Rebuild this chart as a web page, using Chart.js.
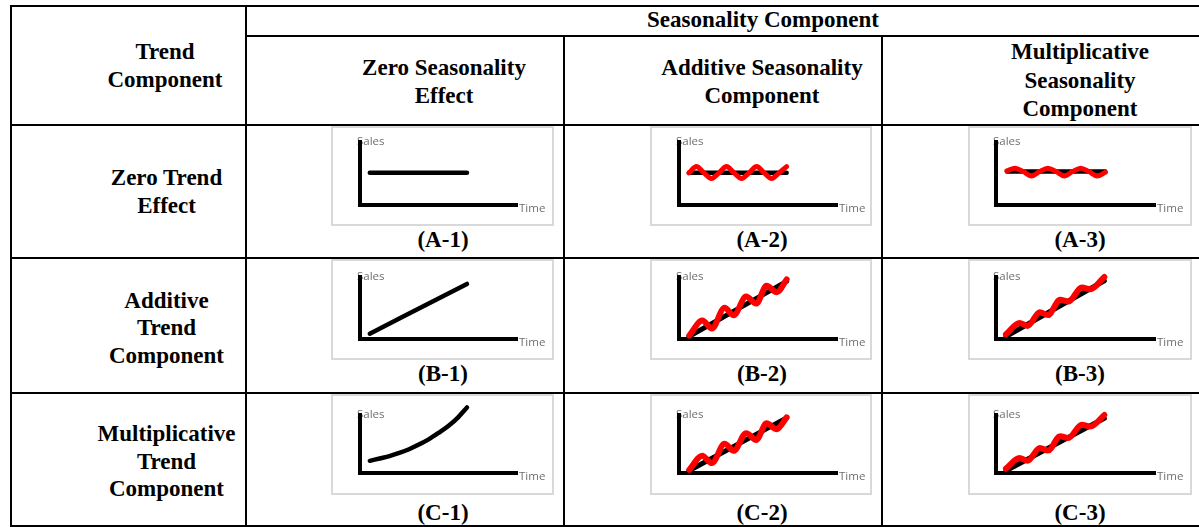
<!DOCTYPE html>
<html>
<head>
<meta charset="utf-8">
<script src="https://cdn.jsdelivr.net/npm/chart.js@4/dist/chart.umd.min.js"></script>
<style>
  html, body { margin: 0; padding: 0; background: #fff; }
  #page { position: relative; width: 1199px; height: 527px; overflow: hidden; background: #fff; }
  .ln { position: absolute; background: #000; }
  .txt { position: absolute; transform: translate(-50%, -50%); text-align: center; white-space: nowrap;
         font-family: "Liberation Serif", "Times New Roman", serif; font-weight: bold; font-size: 23px;
         line-height: 28px; color: #000; }
  .box { position: absolute; box-sizing: border-box; border: 2px solid #d9d9d9; background: #fff; }
  canvas { position: absolute; }
</style>
</head>
<body>
<div id="page"></div>
<script>
// ---------------- data (time on a 0..16 axis, sales on a 0..100 axis) ----------------
// Row A: zero trend
const a1Time = [1, 10.9];
const a1Trend = [51, 51];

const a2Time = [1, 10.9];
const a2Trend = [51, 51];
const a2WaveTime = [1, 1.76, 2.52, 3.29, 4.05, 4.81, 5.57, 6.33, 7.1, 7.86, 8.62, 9.38, 10.14, 10.9];
const a2Wave = [51, 61, 51, 42, 51, 61, 51, 42, 51, 61, 51, 42, 51, 61];

const a3Time = [1.1, 11];
const a3Trend = [53, 53];
const a3WaveTime = [1.1, 1.92, 2.74, 3.57, 4.39, 5.22, 6.05, 6.87, 7.7, 8.52, 9.35, 10.17, 11];
const a3Wave = [54, 58.5, 53, 46, 53, 58.5, 53, 46, 53, 58.5, 53, 46, 52];

// Row B: additive trend
const b1Time = [1, 10.9];
const b1Trend = [8.5, 88.8];

const b2Time = [1, 10.9];
const b2Trend = [4, 93];
const b2WaveTime = [1.05, 2.35, 3.33, 4.62, 5.54, 6.8, 7.82, 8.87, 9.89, 10.9];
const b2Wave = [5.7, 29.7, 17.1, 50.3, 38.3, 68.6, 57.1, 85.8, 75.5, 96];

const b3Time = [1, 10.9];
const b3Trend = [4, 94];
const b3WaveTime = [1, 2.37, 3.18, 4.41, 5.23, 6.45, 7.27, 8.63, 9.48, 10.9];
const b3Wave = [7.4, 25.8, 21.1, 43.2, 38.6, 63.2, 60.3, 83.1, 80.2, 100];

// Row C: multiplicative trend
const c1Time = [1, 2, 3, 4, 5, 6, 7, 8, 9, 10, 10.9];
const c1Trend = [21, 25, 29, 34.5, 41, 49, 58, 69, 81, 96, 113];

const c2Time = [1, 10.9];
const c2Trend = [4, 95];
const c2WaveTime = [1.05, 2.35, 3.33, 4.62, 5.54, 6.8, 7.82, 8.87, 9.89, 10.9];
const c2Wave = [5.7, 29.7, 17.1, 50.3, 38.3, 68.6, 57.1, 85.8, 75.5, 96];

const c3Time = [1, 10.9];
const c3Trend = [4, 94.3];
const c3WaveTime = [1, 2.37, 3.18, 4.41, 5.23, 6.45, 7.27, 8.63, 9.48, 10.9];
const c3Wave = [7.4, 25.8, 21.1, 43.2, 38.6, 63.2, 60.3, 83.1, 80.2, 100];

const cellLabels = [["(A-1)", "(A-2)", "(A-3)"], ["(B-1)", "(B-2)", "(B-3)"], ["(C-1)", "(C-2)", "(C-3)"]];
const axisTitleY = "Sales";
const axisTitleX = "Time";

// ---------------- table layout ----------------
const page = document.getElementById('page');
function line(l, t, w, h) {
  const d = document.createElement('div'); d.className = 'ln';
  Object.assign(d.style, {left: l + 'px', top: t + 'px', width: w + 'px', height: h + 'px'});
  page.appendChild(d);
}
function text(html, cx, cy, lh) {
  const d = document.createElement('div'); d.className = 'txt'; d.innerHTML = html;
  d.style.left = cx + 'px'; d.style.top = cy + 'px';
  if (lh) d.style.lineHeight = lh + 'px';
  page.appendChild(d);
}
line(10, 5, 1300, 2);      // top
line(10, 5, 2, 522);       // left
line(245, 5, 2, 522);      // trend col divider
line(245, 35, 1100, 2);    // under "Seasonality Component"
line(563, 35, 2, 492);
line(881, 35, 2, 492);
line(10, 124, 1300, 2);
line(10, 257, 1300, 2);
line(10, 392, 1300, 2);
line(10, 525, 1300, 2);

text("Seasonality Component", 763, 20);
text("Trend<br>Component", 165, 65.5, 28.5);
text("Zero Seasonality<br>Effect", 444, 82, 28);
text("Additive Seasonality<br>Component", 762, 82, 28);
text("Multiplicative<br>Seasonality<br>Component", 1080, 81, 28.5);
text("Zero Trend<br>Effect", 166.5, 192, 28);
text("Additive<br>Trend<br>Component", 166.5, 327.5, 27.5);
text("Multiplicative<br>Trend<br>Component", 166.5, 461, 27.5);

// ---------------- charts ----------------
const cols = [
  {left: 331, width: 223, padL: 29, padR: 37, cx: 443},
  {left: 650, width: 222, padL: 29, padR: 35, cx: 762},
  {left: 968, width: 224, padL: 28, padR: 37, cx: 1080}
];
const rows = [
  {top: 126, height: 100, padT: 16, padB: 21, labelY: 240},
  {top: 259, height: 101, padT: 18, padB: 21, labelY: 374},
  {top: 394, height: 101, padT: 21, padB: 22, labelY: 513}
];

function pts(xs, ys) { return xs.map((x, i) => ({x: x, y: ys[i]})); }

const cellData = [
  [
    {trend: pts(a1Time, a1Trend)},
    {trend: pts(a2Time, a2Trend), wave: pts(a2WaveTime, a2Wave)},
    {trend: pts(a3Time, a3Trend), wave: pts(a3WaveTime, a3Wave)}
  ],
  [
    {trend: pts(b1Time, b1Trend)},
    {trend: pts(b2Time, b2Trend), wave: pts(b2WaveTime, b2Wave)},
    {trend: pts(b3Time, b3Trend), wave: pts(b3WaveTime, b3Wave)}
  ],
  [
    {trend: pts(c1Time, c1Trend)},
    {trend: pts(c2Time, c2Trend), wave: pts(c2WaveTime, c2Wave)},
    {trend: pts(c3Time, c3Trend), wave: pts(c3WaveTime, c3Wave)}
  ]
];

const axisLabelPlugin = {
  id: 'axisLabels',
  beforeDraw(chart) {
    const {ctx, chartArea} = chart;
    ctx.save();
    ctx.fillStyle = '#6f6f6f';
    ctx.font = '11.5px "Open Sans", "Liberation Sans", sans-serif';
    ctx.textBaseline = 'middle';
    ctx.textAlign = 'left';
    ctx.fillText(axisTitleY, chartArea.left - 3, chartArea.top);
    ctx.fillText(axisTitleX, chartArea.right + 2, chartArea.bottom + 4);
    ctx.restore();
  }
};

const scaleOpts = (min, max) => ({
  type: 'linear', min: min, max: max,
  ticks: {display: false},
  grid: {display: false, drawTicks: false},
  border: {display: true, color: '#000', width: 4},
  title: {display: false}
});

rows.forEach((r, ri) => {
  cols.forEach((c, ci) => {
    const box = document.createElement('div'); box.className = 'box';
    Object.assign(box.style, {left: c.left + 'px', top: r.top + 'px', width: c.width + 'px', height: r.height + 'px'});
    page.appendChild(box);
    const cv = document.createElement('canvas');
    cv.width = c.width; cv.height = r.height;
    Object.assign(cv.style, {left: c.left + 'px', top: r.top + 'px', width: c.width + 'px', height: r.height + 'px'});
    page.appendChild(cv);

    const d = cellData[ri][ci];
    const datasets = [];
    if (d.wave) {
      datasets.push({data: d.wave, borderColor: '#ff0000', borderWidth: ri === 0 ? 5 : 6,
        cubicInterpolationMode: 'monotone', borderCapStyle: 'round', borderJoinStyle: 'round',
        pointRadius: 0, fill: false, clip: false});
    }
    datasets.push({data: d.trend, borderColor: '#000000', borderWidth: d.wave && ri > 0 ? 5 : 4.5,
      cubicInterpolationMode: 'monotone', borderCapStyle: 'round', borderJoinStyle: 'round',
      pointRadius: 0, fill: false, clip: false});

    new Chart(cv, {
      type: 'line',
      data: {datasets: datasets},
      options: {
        responsive: false, animation: false, devicePixelRatio: 1,
        layout: {padding: {left: c.padL, right: c.padR, top: r.padT, bottom: r.padB}},
        plugins: {legend: {display: false}, tooltip: {enabled: false}, title: {display: false}},
        scales: {x: scaleOpts(0, 16), y: scaleOpts(0, 100)}
      },
      plugins: [axisLabelPlugin]
    });

    text(cellLabels[ri][ci], c.cx, r.labelY);
  });
});
</script>
</body>
</html>
